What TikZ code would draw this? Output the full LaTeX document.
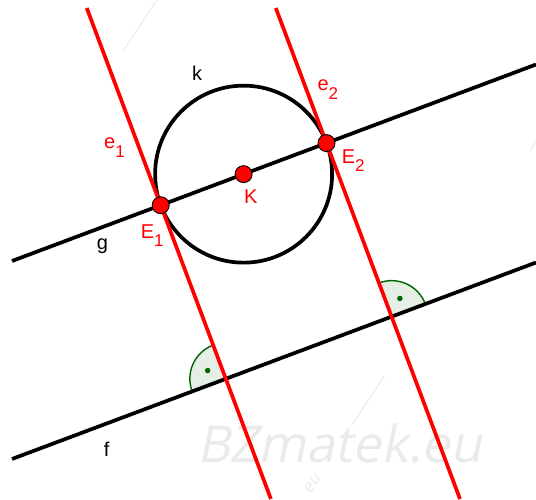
\documentclass[tikz,border=0pt]{standalone}
\usepackage{fontspec}
\setmainfont{Liberation Sans}
\newfontfamily\wmfont[FakeSlant=0.2]{Open Sans}
\usetikzlibrary{calc}
\definecolor{ggred}{RGB}{255,0,0}
\definecolor{ggreen}{RGB}{0,100,0}
\definecolor{anglefill}{RGB}{229,239,229}
\definecolor{wmgray}{RGB}{234,234,234}
\newcommand\lsub[2]{#1\raisebox{-8.5pt}{\fontsize{17}{17}\selectfont #2}}
\begin{document}
\begin{tikzpicture}[x=1pt,y=1pt,
  geoline/.style={line width=3.7pt},
  redline/.style={geoline,draw=ggred},
  blackline/.style={geoline,draw=black},
  pointdot/.style={circle,fill=ggred,draw=black,line width=0.9pt,minimum size=17pt,inner sep=0pt},
  lab/.style={font=\fontsize{20}{20}\selectfont,inner sep=0pt},
  redlab/.style={lab,text=ggred},
  anglearc/.style={draw=ggreen,line width=1.4pt},
  angledot/.style={circle,fill=ggreen,inner sep=0pt,minimum size=5.5pt},
  wmline/.style={draw=wmgray,line width=1pt}
]
\useasboundingbox (0,0) rectangle (536,499);
% watermark
\coordinate (W1) at (122.7,447.3);
\coordinate (W2) at (156.7,499);
\coordinate (W3) at (384.4,123);
\coordinate (W4) at (352,74);
\coordinate (W5) at (531,349);
\coordinate (W6) at (536,359);
\draw[wmline] (W1) -- (W2);
\draw[wmline] (W3) -- (W4);
\draw[wmline] (W5) -- (W6);
\node[anchor=base west,text=wmgray,font=\wmfont\fontsize{51}{51}\selectfont,inner sep=0pt] (wm) at (197,37) {BZmatek.eu};
\node[rotate=52,text=wmgray,font=\wmfont\fontsize{16}{16}\selectfont,inner sep=0pt] (wm2) at (312,15) {eu};
% geometry
\coordinate (G1) at (12,238);
\coordinate (G2) at (536,434.5);
\coordinate (F1) at (12,40);
\coordinate (F2) at (536,236.5);
\coordinate (A1) at (86.75,491);
\coordinate (A2) at (270.9,0);
\coordinate (B1) at (275.8,491);
\coordinate (B2) at (460.0,0);
\coordinate (P1) at (intersection of A1--A2 and F1--F2);
\coordinate (P2) at (intersection of B1--B2 and F1--F2);
% right angle marks
\fill[anglefill] (P1) -- ++(110.556:36) arc[start angle=110.556,end angle=200.556,radius=36] -- cycle;
\draw[anglearc] ($(P1)+(110.556:36)$) arc[start angle=110.556,end angle=200.556,radius=36];
\node[angledot] (d1) at ($(P1)+(155.556:20)$) {};
\fill[anglefill] (P2) -- ++(20.556:36) arc[start angle=20.556,end angle=110.556,radius=36] -- cycle;
\draw[anglearc] ($(P2)+(20.556:36)$) arc[start angle=20.556,end angle=110.556,radius=36];
\node[angledot] (d2) at ($(P2)+(65.556:20)$) {};
% black objects
\coordinate (Kc) at (243.6,324.85);
\draw[blackline] (G1) -- (G2);
\draw[blackline] (F1) -- (F2);
\draw[blackline] (Kc) circle[radius=88.5];
% red lines
\draw[redline] (A1) -- (A2);
\draw[redline] (B1) -- (B2);
% points
\node[pointdot] (E1) at (160.7,293.8) {};
\node[pointdot] (K) at (Kc) {};
\node[pointdot] (E2) at (326.5,355.9) {};
% labels
\node[lab,anchor=base] (kl) at (197,418.3) {k};
\node[lab,anchor=base] (gl) at (102.5,249) {g};
\node[lab,anchor=base] (fl) at (106.7,43) {f};
\node[redlab,anchor=base] (Kl) at (250.8,295) {K};
\node[redlab,anchor=base west] (e1l) at (104,350) {\lsub{e}{1}};
\node[redlab,anchor=base west] (e2l) at (317.3,408.3) {\lsub{e}{2}};
\node[redlab,anchor=base west] (E1l) at (140.7,260.7) {\lsub{E}{1}};
\node[redlab,anchor=base west] (E2l) at (341.7,335.7) {\lsub{E}{2}};
\end{tikzpicture}
\end{document}
